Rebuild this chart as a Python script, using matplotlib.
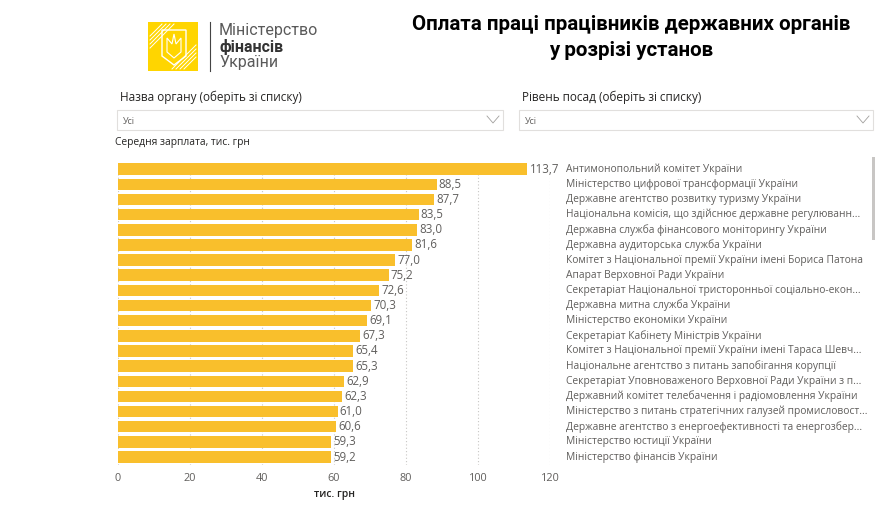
import matplotlib.pyplot as plt
from matplotlib.patches import Rectangle, Polygon
from matplotlib.lines import Line2D

plt.rcParams['font.family'] = ['Open Sans', 'DejaVu Sans']

agencies = [
    "Антимонопольний комітет України",
    "Міністерство цифрової трансформації України",
    "Державне агентство розвитку туризму України",
    "Національна комісія, що здійснює державне регулюванн...",
    "Державна служба фінансового моніторингу України",
    "Державна аудиторська служба України",
    "Комітет з Національної премії України імені Бориса Патона",
    "Апарат Верховної Ради України",
    "Секретаріат Національної тристоронньої соціально-екон...",
    "Державна митна служба України",
    "Міністерство економіки України",
    "Секретаріат Кабінету Міністрів України",
    "Комітет з Національної премії України імені Тараса Шевч...",
    "Національне агентство з питань запобігання корупції",
    "Секретаріат Уповноваженого Верховної Ради України з п...",
    "Державний комітет телебачення і радіомовлення України",
    "Міністерство з питань стратегічних галузей промисловост...",
    "Державне агентство з енергоефективності та енергозбер...",
    "Міністерство юстиції України",
    "Міністерство фінансів України",
]
salary = [113.7, 88.5, 87.7, 83.5, 83.0, 81.6, 77.0, 75.2, 72.6, 70.3,
          69.1, 67.3, 65.4, 65.3, 62.9, 62.3, 61.0, 60.6, 59.3, 59.2]
ticks = [0, 20, 40, 60, 80, 100, 120]

W, H = 876, 505
fig = plt.figure(figsize=(W / 100, H / 100), dpi=100)

def fx(px):
    return px / W

def fy(py):
    return 1 - py / H

bar_color = "#F9BF2C"
grey = "#605E5C"
narrow = ["Liberation Sans Narrow", "Roboto", "DejaVu Sans"]

# main chart
ax = fig.add_axes([fx(118), fy(464.6), fx(550) - fx(118), 303 / H])
pos = list(range(len(salary)))
ax.barh(pos, salary, height=0.76, color=bar_color, zorder=2)
ax.set_xlim(0, 120)
ax.set_ylim(len(salary) - 0.5, -0.5)
ax.set_xticks(ticks)
ax.set_xticklabels([str(t) for t in ticks], fontsize=7.8, color=grey)
ax.set_yticks([])
ax.tick_params(axis="x", length=0, pad=6)
for s in ax.spines.values():
    s.set_visible(False)
ax.grid(axis="x", linestyle=(0, (1, 2)), color="#C8C6C4", linewidth=0.8, zorder=0)
ax.set_xlabel("тис. грн", fontsize=7.5, color="#252423", labelpad=4,
              fontweight="semibold")

for i, v in enumerate(salary):
    ax.text(v + 0.6, i, f"{v:.1f}".replace(".", ","), va="center", ha="left",
            fontsize=8.3, color=grey)
    ax.text(1.037, i, agencies[i], transform=ax.get_yaxis_transform(),
            va="center", ha="left", fontsize=7.35, color=grey)

# title
fig.text(fx(631), fy(24), "Оплата праці працівників державних органів",
         ha="center", va="center", fontsize=14.8, fontweight="bold",
         family=narrow)
fig.text(fx(631), fy(50), "у розрізі установ",
         ha="center", va="center", fontsize=14.8, fontweight="bold",
         family=narrow)

# slicers
for x0, x1, label in [(117, 503, "Назва органу (оберіть зі списку)"),
                      (519, 873, "Рівень посад (оберіть зі списку)")]:
    fig.text(fx(x0 + 3), fy(97), label, ha="left", va="center", fontsize=8.5,
             color="#252423")
    fig.patches.append(Rectangle((fx(x0), fy(130)), fx(x1) - fx(x0), 20 / H,
                                 transform=fig.transFigure, facecolor="white",
                                 edgecolor="#E1DFDD", linewidth=0.8))
    fig.text(fx(x0 + 6), fy(121), "Усі", ha="left", va="center", fontsize=6.5,
             color="#605E5C")
    cx = x1 - 10
    fig.lines.append(Line2D([fx(cx - 6), fx(cx), fx(cx + 6)],
                            [fy(116), fy(123), fy(116)],
                            transform=fig.transFigure, color="#A19F9D",
                            linewidth=0.6))

fig.text(fx(115), fy(142), "Середня зарплата, тис. грн", ha="left",
         va="center", fontsize=7.4, color="#252423")

# scrollbar
fig.patches.append(Rectangle((fx(872), fy(240)), 3 / W, 83 / H,
                             transform=fig.transFigure, facecolor="#C8C6C4",
                             edgecolor="none"))

# logo
fig.patches.append(Rectangle((fx(148), fy(71)), 50 / W, 49 / H,
                             transform=fig.transFigure, facecolor="#FFD500",
                             edgecolor="none"))
for k in range(4):
    d = 4 * k
    fig.lines.append(Line2D([fx(150), fx(162 + d)], [fy(36 + d), fy(24)],
                            transform=fig.transFigure, color="white",
                            linewidth=0.7))
    fig.lines.append(Line2D([fx(184 - d), fx(196)], [fy(69), fy(57 - d)],
                            transform=fig.transFigure, color="white",
                            linewidth=0.7))
shield = [(162, 30), (186, 30), (186, 56), (174, 65), (162, 56)]
fig.patches.append(Polygon([(fx(a), fy(b)) for a, b in shield], closed=True,
                           transform=fig.transFigure, facecolor="none",
                           edgecolor="white", linewidth=1.0))
trident = [(174, 34), (176, 44), (181, 38), (181, 52), (174, 58),
           (167, 52), (167, 38), (172, 44)]
fig.patches.append(Polygon([(fx(a), fy(b)) for a, b in trident], closed=True,
                           transform=fig.transFigure, facecolor="none",
                           edgecolor="white", linewidth=0.8))
fig.lines.append(Line2D([fx(210), fx(210)], [fy(22), fy(71)],
                        transform=fig.transFigure, color="#444444",
                        linewidth=0.8))
fig.text(fx(219), fy(31), "Міністерство", ha="left", va="center",
         fontsize=11.5, color="#5A5A5A", family=["Roboto", "DejaVu Sans"])
fig.text(fx(219), fy(47), "фінансів", ha="left", va="center",
         fontsize=11.5, color="#333333", fontweight="bold",
         family=["Roboto", "DejaVu Sans"])
fig.text(fx(219), fy(63), "України", ha="left", va="center",
         fontsize=11.5, color="#5A5A5A", family=["Roboto", "DejaVu Sans"])

fig.savefig("out.png", dpi=100)
